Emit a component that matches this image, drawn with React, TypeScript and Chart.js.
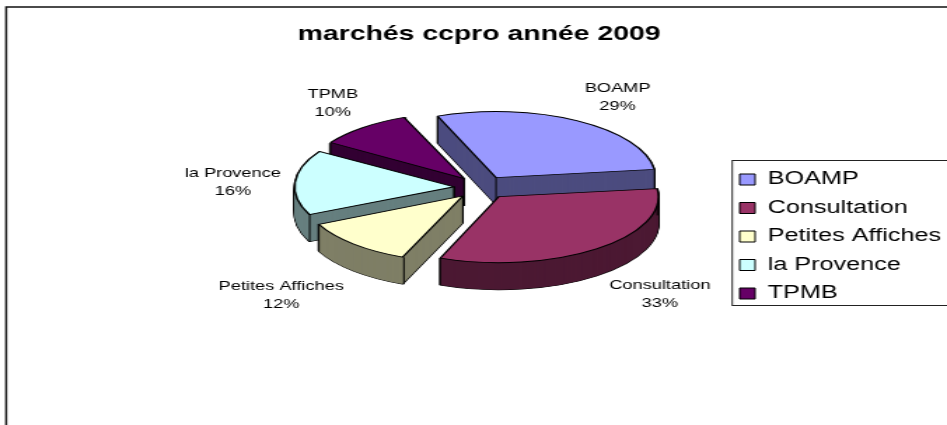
import React, { useEffect, useRef } from "react";
import { Chart, registerables } from "chart.js";

Chart.register(...registerables);

const categories = ["BOAMP", "Consultation", "Petites Affiches", "la Provence", "TPMB"];
const shares = [29, 33, 12, 16, 10];
const faceColors = ["#9999FF", "#993366", "#FFFFCC", "#CCFFFF", "#660066"];
const wallColors = ["#4C4C7F", "#4C1933", "#7F7F66", "#667F7F", "#330033"];
const paintOrder = [0, 4, 3, 2, 1];
const labelNudgeX = [0, 3, 0, 0, 3];
const labelNudgeY = [-1.5, -2, 5.5, 2, -4];

const CANVAS_W = 676;
const CANVAS_H = 425;
const FONT = "'Liberation Sans', Arial, sans-serif";
const CX = 344;
const CY = 187.5;
const TILT = 0.58;
const DEPTH = 27;
const RADIUS = 114;
const EXPLODE = 79;

function arcOptions(o: any, bg: string, border: string, width: number) {
  return {
    backgroundColor: bg,
    borderColor: border,
    borderWidth: width,
    borderAlign: "center",
    borderJoinStyle: "round",
    borderRadius: 0,
    borderDash: [],
    borderDashOffset: 0,
    spacing: 0,
    circular: true,
    selfJoin: false,
    offset: o.offset,
  };
}

const pie3d = {
  id: "pie3d",
  beforeDraw(chart: any) {
    const ctx = chart.ctx;
    ctx.save();
    ctx.strokeStyle = "#111";
    ctx.lineWidth = 1.5;
    ctx.strokeRect(4.4, 7, CANVAS_W + 40, CANVAS_H + 40);
    ctx.restore();
  },
  afterLayout(chart: any) {
    const l = chart.legend;
    l.left = 517.5;
    l.right = CANVAS_W + 200;
    l.top = 160;
    l.bottom = CANVAS_H;
  },
  beforeDatasetDraw(chart: any, args: any) {
    const ctx = chart.ctx;
    const meta = chart.getDatasetMeta(args.index);
    const R = meta.controller.outerRadius;
    const off = EXPLODE / 4;

    paintOrder.forEach((i) => {
      const el = meta.data[i];
      const base = el.options;
      const fix = 1 - Math.sin(Math.min(Math.PI, el.circumference));
      el.outerRadius = R - off * fix;
      const stamp = (t: number, opts: any) => {
        ctx.save();
        ctx.translate(CX, CY + t);
        ctx.scale(1, TILT);
        ctx.translate(-el.x, -el.y);
        el.options = opts;
        el.draw(ctx);
        ctx.restore();
      };
      const black = arcOptions(base, "#000", "#000", 1.5);
      for (let t = DEPTH; t > 0; t--) stamp(t, black);
      const wall = arcOptions(base, wallColors[i], wallColors[i], 0);
      for (let t = DEPTH; t > 0; t--) stamp(t, wall);

      const mid = (el.startAngle + el.endAngle) / 2;
      const ax = CX + Math.cos(mid) * off;
      const ay = CY + Math.sin(mid) * off * TILT;
      ctx.save();
      ctx.strokeStyle = "#000";
      ctx.lineWidth = 1;
      [[ax, ay], [ax + R * Math.cos(el.startAngle), ay + R * TILT * Math.sin(el.startAngle)], [ax + R * Math.cos(el.endAngle), ay + R * TILT * Math.sin(el.endAngle)]].forEach(([x, y]) => {
        ctx.beginPath();
        ctx.moveTo(x, y);
        ctx.lineTo(x, y + DEPTH);
        ctx.stroke();
      });
      ctx.restore();

      stamp(0, arcOptions(base, faceColors[i], "#000", 1.5));
      el.options = base;
    });

    ctx.save();
    ctx.fillStyle = "#000";
    ctx.font = `13px ${FONT}`;
    ctx.textAlign = "center";
    ctx.textBaseline = "middle";
    meta.data.forEach((el: any, i: number) => {
      const mid = (el.startAngle + el.endAngle) / 2;
      const s = Math.cos(mid);
      const c = Math.sin(mid);
      const ax = CX + s * off;
      const ay = CY + c * off * TILT;
      const hw = ctx.measureText(categories[i]).width / 2;
      const x = ax + R * s + Math.sign(s) * hw + s * 10 + labelNudgeX[i];
      const y = ay + R * TILT * c + c * 26 + (c > 0.2 ? DEPTH : 0) + labelNudgeY[i];
      ctx.fillText(categories[i], x, y - 9);
      ctx.fillText(`${shares[i]}%`, x, y + 9);
    });
    ctx.restore();
    return false;
  },
  afterDraw(chart: any) {
    const ctx = chart.ctx;
    ctx.save();
    ctx.strokeStyle = "#222";
    ctx.lineWidth = 1;
    ctx.strokeRect(522.7, 160.5, 400, 145);
    ctx.restore();
  },
};

export default function App() {
  const ref = useRef<HTMLCanvasElement>(null);
  useEffect(() => {
    const chart = new Chart(ref.current as HTMLCanvasElement, {
      type: "pie",
      data: {
        labels: categories,
        datasets: [
          {
            data: shares,
            backgroundColor: faceColors,
            borderColor: "#000",
            borderWidth: 1,
            offset: EXPLODE,
            radius: RADIUS,
          } as any,
        ],
      },
      options: {
        responsive: false,
        animation: false,
        rotation: -21.5,
        layout: { padding: { left: 8 } },
        plugins: {
          tooltip: { enabled: false },
          title: {
            display: true,
            text: "marchés ccpro année 2009",
            color: "#000",
            font: { family: FONT, size: 20.25, weight: "bold" },
            padding: { top: 22, bottom: 6 },
          },
          legend: {
            position: "right",
            align: "start",
            labels: {
              color: "#000",
              font: { family: FONT, size: 18 },
              boxWidth: 11,
              boxHeight: 11,
              padding: 10.5,
            },
          },
        },
      },
      plugins: [pie3d as any],
    });
    return () => chart.destroy();
  }, []);
  return (
    <div style={{ position: "absolute", left: 0, top: 0, width: 947, height: 425, overflow: "hidden", background: "#fff" }}>
      <canvas ref={ref} width={CANVAS_W} height={CANVAS_H} style={{ width: 947, height: 425, display: "block" }} />
    </div>
  );
}
